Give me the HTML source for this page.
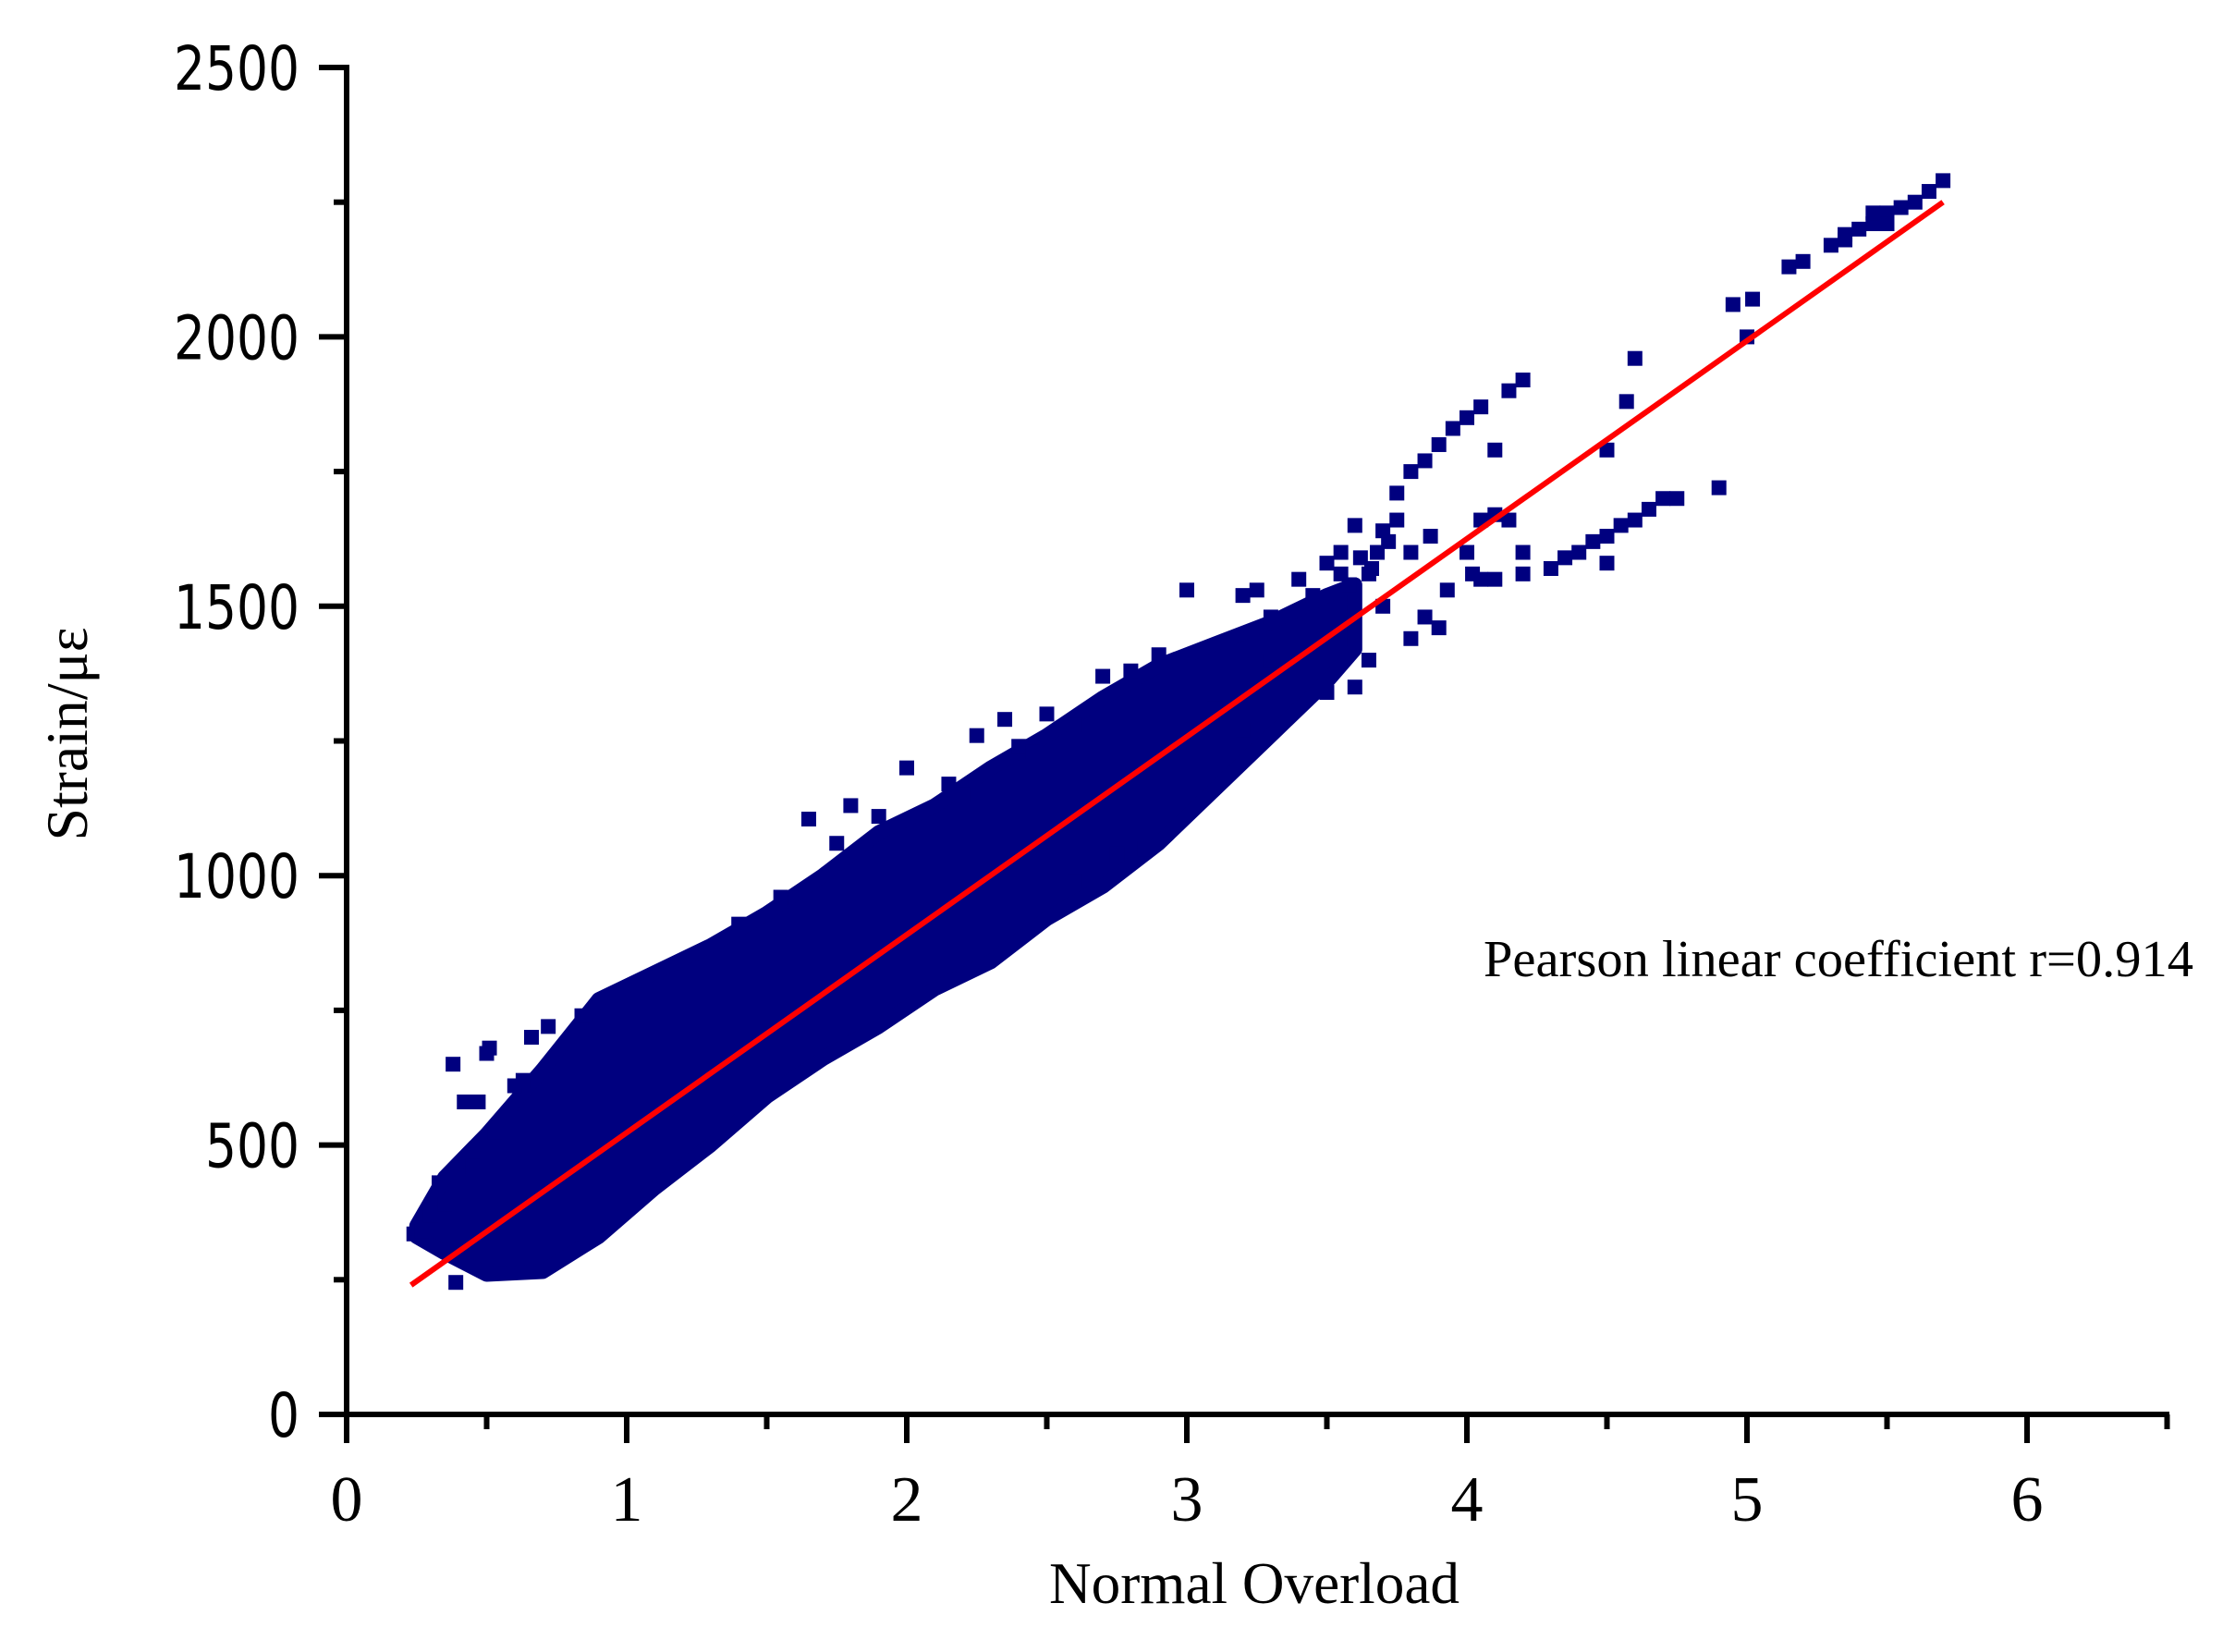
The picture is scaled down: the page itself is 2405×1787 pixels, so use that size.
<!DOCTYPE html>
<html><head><meta charset="utf-8"><style>
html,body{margin:0;padding:0;background:#fff;}
svg{display:block;}
</style></head><body>
<svg id="chart" xmlns="http://www.w3.org/2000/svg" width="2405" height="1787" viewBox="0 0 2405 1787">
<rect width="2405" height="1787" fill="#fff"/>
<g id="band"></g>
<g id="points"></g>
<g id="fit"></g>
<g id="axes"></g>
<text x="1357" y="1734" font-family="Liberation Serif, serif" font-size="63" text-anchor="middle" textLength="444" lengthAdjust="spacingAndGlyphs">Normal Overload</text>
<text transform="translate(94,794) rotate(-90)" font-family="Liberation Serif, serif" font-size="64" text-anchor="middle" textLength="231" lengthAdjust="spacingAndGlyphs">Strain/με</text>
<text x="1605" y="1056" font-family="Liberation Serif, serif" font-size="56" textLength="768" lengthAdjust="spacingAndGlyphs">Pearson linear coefficient r=0.914</text>
</svg>
<script>
const xTicks=[0,1,2,3,4,5,6];
const yTicks=[0,500,1000,1500,2000,2500];
const bandX=[0.25,0.35,0.5,0.7,0.9,1.1,1.3,1.5,1.7,1.9,2.1,2.3,2.5,2.7,2.9,3.1,3.3,3.5,3.6];
const bandUpper=[350,440,520,640,770,820,870,930,1000,1080,1130,1200,1260,1330,1390,1430,1470,1520,1540];
const bandLower=[330,300,260,265,330,420,500,590,660,720,790,840,920,980,1060,1160,1260,1360,1420];
const ptX=[0.38,0.5,0.51,0.42,0.47,0.6,0.63,0.66,0.72,0.84,0.53,0.39,0.24,0.27,0.3,0.35,0.33,0.45,2.0,1.8,1.65,2.25,2.35,2.5,2.7,2.9,3.0,3.2,3.25,3.3,3.4,3.5,3.45,3.55,3.6,3.7,3.65,3.75,3.8,3.85,3.9,3.95,4.0,4.05,4.1,4.15,4.2,3.75,3.8,3.87,3.93,3.8,3.65,3.5,4.0,4.05,4.1,4.15,4.2,4.02,4.05,4.1,4.2,4.3,4.4,4.45,4.5,4.55,4.6,4.65,4.7,4.75,4.9,4.5,4.57,4.6,4.95,5.02,5.0,5.15,5.2,5.3,5.35,5.4,5.45,5.5,5.55,5.6,5.65,5.7,5.35,5.45,5.5,4.5,4.35,2.85,2.75,2.6,3.3,3.6,3.2,3.1,3.55,3.62,3.68,3.72,3.58,3.66,3.85,3.9,3.7,1.75,1.9,2.15,2.4,2.6,2.8,1.55,1.4,2.2,2.45];
const ptY=[650,670,680,580,580,610,620,700,720,740,525,245,335,340,370,390,430,460,1200,1130,1105,1260,1290,1300,1370,1410,1530,1520,1530,1480,1550,1580,1520,1600,1650,1640,1560,1710,1750,1770,1800,1830,1850,1870,1790,1900,1920,1660,1600,1630,1530,1440,1400,1340,1600,1660,1670,1660,1600,1560,1550,1550,1560,1570,1600,1620,1630,1650,1660,1680,1700,1700,1720,1790,1880,1960,2060,2070,2000,2130,2140,2170,2190,2200,2210,2230,2240,2250,2270,2290,2180,2230,2210,1580,1590,1050,1040,990,1400,1350,1270,1310,1560,1590,1600,1620,1540,1570,1480,1460,1500,1060,1110,1170,1240,1280,1380,960,910,1150,1230];
const fitX=[0.23,5.7];
const fitY=[240,2250];

const NS='http://www.w3.org/2000/svg';
const X0=375,XU=303,Y0=1530,YU=(1530-73)/2500;
function sx(v){return X0+v*XU;}
function sy(v){return Y0-v*YU;}
function mk(tag,attrs,parent){const e=document.createElementNS(NS,tag);for(const k in attrs)e.setAttribute(k,attrs[k]);parent.appendChild(e);return e;}

const band=document.getElementById('band');
let pts=[];
for(let i=0;i<bandX.length;i++)pts.push(sx(bandX[i])+','+sy(bandUpper[i]));
for(let i=bandX.length-1;i>=0;i--)pts.push(sx(bandX[i])+','+sy(bandLower[i]));
const poly=mk('polygon',{points:pts.join(' '),fill:'#00007f',stroke:'#00007f','stroke-width':'16','stroke-linejoin':'round'},band);



const pg=document.getElementById('points');
for(let i=0;i<ptX.length;i++){
  const r=mk('rect',{x:sx(ptX[i])-8,y:sy(ptY[i])-8,width:16,height:16,fill:'#00007f'},pg);
  
  
}

const fit=document.getElementById('fit');
const ln=mk('line',{x1:sx(fitX[0]),y1:sy(fitY[0]),x2:sx(fitX[1]),y2:sy(fitY[1]),stroke:'#ff0000','stroke-width':'6'},fit);



const ax=document.getElementById('axes');
const ya=mk('line',{x1:X0,y1:70,x2:X0,y2:1533,stroke:'#000','stroke-width':'6'},ax);


const xa=mk('line',{x1:X0-3,y1:Y0,x2:2347,y2:Y0,stroke:'#000','stroke-width':'6'},ax);


for(let v=0;v<=6.5;v+=0.5){
  const major=Number.isInteger(v);
  const t=mk('line',{x1:sx(v),y1:Y0,x2:sx(v),y2:Y0+(major?31:16),stroke:'#000','stroke-width':'6'},ax);
  
  
}
for(let v=0;v<=2500;v+=250){
  const major=v%500===0;
  const t=mk('line',{x1:X0-(major?30:14),y1:sy(v),x2:X0,y2:sy(v),stroke:'#000','stroke-width':'6'},ax);
  
  
}
xTicks.forEach(v=>{
  const t=mk('text',{x:sx(v),y:1645,'font-family':'Liberation Serif, serif','font-size':'70','text-anchor':'middle'},ax);
  t.textContent=v;
  
  
});
yTicks.forEach(v=>{
  const s=String(v);
  const t=mk('text',{x:324,y:sy(v)+24,'font-family':'DejaVu Sans, sans-serif','font-size':'66','text-anchor':'end',textLength:String(s.length*34),lengthAdjust:'spacingAndGlyphs'},ax);
  t.textContent=s;
  
  
});
</script>
</body></html>
